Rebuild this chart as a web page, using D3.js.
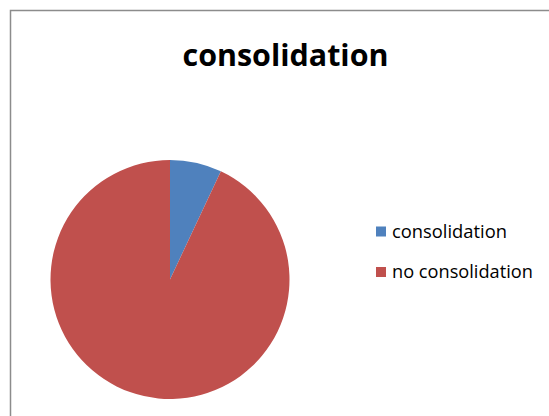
<!DOCTYPE html>
<html>
<head>
<meta charset="utf-8">
<script src="https://cdn.jsdelivr.net/npm/d3@7"></script>
<style>
  html, body { margin: 0; padding: 0; background: #fff; }
  svg { display: block; }
  text { font-family: "Open Sans", "Noto Sans", sans-serif; fill: #000; }
</style>
</head>
<body>
<svg id="chart" width="549" height="416"></svg>
<script>
// Chart data
const categories = ["consolidation", "no consolidation"];
const values = [7, 93];
const colors = ["#4F81BD", "#C0504D"];
const title = "consolidation";

const svg = d3.select("#chart");
const W = 549, H = 416;

// Chart area frame (extends past the right and bottom edges)
svg.append("rect")
  .attr("x", 10.5).attr("y", 10.5)
  .attr("width", W + 20).attr("height", H + 20)
  .attr("fill", "#fff")
  .attr("stroke", "#8c8c8c")
  .attr("stroke-width", 1.5);

// Fit a text element's font size to a target width
function fitWidth(sel, target, start) {
  let fs = start;
  sel.style("font-size", fs + "px");
  for (let i = 0; i < 4; i++) {
    const w = sel.node().getComputedTextLength();
    fs = fs * target / w;
    sel.style("font-size", fs + "px");
  }
}

// Title
const t = svg.append("text")
  .attr("x", 285.5).attr("y", 66)
  .attr("text-anchor", "middle")
  .style("font-weight", "bold")
  .text(title);
fitWidth(t, 206, 26);

// Pie
const cx = 170, cy = 279.5, r = 119.5;
const pie = d3.pie().sort(null).value(d => d.v);
const arc = d3.arc().innerRadius(0).outerRadius(r);
const data = categories.map((c, i) => ({ c, v: values[i] }));

svg.append("g")
  .attr("transform", `translate(${cx},${cy})`)
  .selectAll("path")
  .data(pie(data))
  .join("path")
  .attr("d", arc)
  .attr("fill", (d, i) => colors[i]);

// Legend
const legendY = d3.scalePoint().domain(categories).range([231.5, 272]);
const lg = svg.append("g");
categories.forEach((c, i) => {
  const y = legendY(c);
  lg.append("rect")
    .attr("x", 376).attr("y", y - 5)
    .attr("width", 10).attr("height", 10)
    .attr("fill", colors[i]);
});
const legendWidths = [115, 141];
categories.forEach((c, i) => {
  const y = legendY(c);
  const tx = lg.append("text")
    .attr("x", 392).attr("y", y + 6)
    .text(c);
  fitWidth(tx, legendWidths[i], 17);
});
</script>
</body>
</html>
